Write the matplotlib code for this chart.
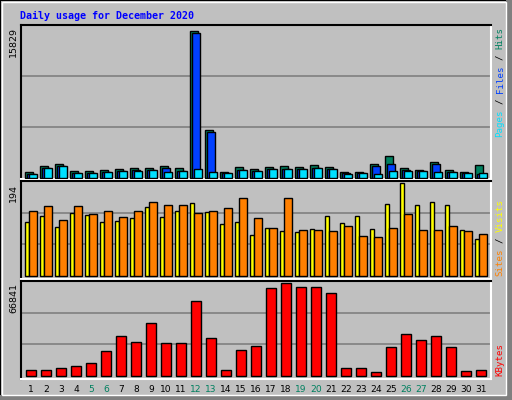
import matplotlib
matplotlib.use("Agg")
import matplotlib.pyplot as plt
from matplotlib.patches import Rectangle
import numpy as np

days = list(range(1, 32))
hits = [590,1250,1460,690,690,800,940,1040,1040,1250,1040,15480,5100,590,1150,
        940,1150,1250,1150,1350,1150,590,590,1460,2290,1040,830,1670,830,590,1350]
files = [420,1000,1250,490,490,590,690,830,830,1040,690,15270,4890,490,830,
         690,940,940,940,1040,940,490,490,1250,1460,830,690,1460,590,490,380]
pages = [420,1000,1250,490,490,590,690,690,830,590,690,940,620,490,830,
         690,940,940,940,1040,940,380,490,380,690,690,690,590,590,490,490]
sites = [113,126,103,132,128,113,115,120,143,124,136,153,134,109,113,86,101,94,92,98,
         126,111,126,98,151,193,147,155,149,96,77]
visits = [136,145,117,145,130,136,124,136,155,149,147,132,136,141,162,122,101,162,96,96,
          94,105,84,82,101,130,96,96,105,94,88]
kbytes = [3900,3900,5400,7100,9000,17800,28800,24400,37600,23700,23700,53700,27300,3900,
          18500,21500,63200,66841,63900,63900,59500,5400,5400,2400,20700,30300,25900,
          28800,20700,3200,3900]
weekend = [5, 6, 12, 13, 19, 20, 26, 27]
max_hits, max_sites, max_kb = 15829, 194, 66841
title = "Daily usage for December 2020"

W, H = 512, 400
fig = plt.figure(figsize=(W/100, H/100), dpi=100)
BG = "#C0C0C0"
fig.patch.set_facecolor(BG)
fig.patches.append(Rectangle((0, 0), 1, 1, transform=fig.transFigure, fc=BG, ec="black", lw=1.5, zorder=-5))
fig.patches.append(Rectangle((1-6/W, 0), 6/W, 1, transform=fig.transFigure, fc="#808080", ec="none", zorder=-4))
fig.patches.append(Rectangle((0, 0), 1, 5/H, transform=fig.transFigure, fc="#808080", ec="none", zorder=-4))
fig.patches.append(Rectangle((1.5/W, 5/H), 1-8/W, 1-6.5/H, transform=fig.transFigure, fc="none", ec="white", lw=1, zorder=-3))

def ax_at(x0, y0, x1, y1):
    return fig.add_axes([x0/W, 1-y1/H, (x1-x0)/W, (y1-y0)/H])

X0 = 1 - 4/15
X1 = X0 + 470/15
def style(ax, ymax, base_frac):
    ax.set_facecolor(BG)
    ax.set_xlim(X0, X1)
    ax.set_ylim(-ymax*base_frac, ymax*1.02)
    for f in (1/3, 2/3):
        ax.axhline(ymax*f*1.02, color="#808080", lw=1.2, zorder=0)
    ax.set_xticks([]); ax.set_yticks([])
    for s in ("top", "left"):
        ax.spines[s].set_color("black"); ax.spines[s].set_linewidth(1.5)
    for s in ("bottom", "right"):
        ax.spines[s].set_color("white"); ax.spines[s].set_linewidth(1.5)

d = np.array(days, dtype=float)
kw = dict(align="edge", edgecolor="black", linewidth=1, zorder=3)

ax1 = ax_at(21, 25, 491, 179)
style(ax1, max_hits, 0.008)
ax1.bar(d, hits, width=8/15, color="#00805F", **kw)
ax1.bar(d+2/15, files, width=8/15, color="#0040FF", **kw)
ax1.bar(d+4/15, pages, width=8/15, color="#00E0FF", **kw)

ax2 = ax_at(21, 181, 491, 279)
style(ax2, max_sites, 0.03)
ax2.bar(d, sites, width=4/15, color="#FFFF00", **kw)
ax2.bar(d+4/15, visits, width=8/15, color="#FF8000", **kw)

ax3 = ax_at(21, 281, 491, 379)
style(ax3, max_kb, 0.035)
ax3.bar(d+1/15, kbytes, width=10/15, color="#FF0000", **kw)

for y, v in ((25, max_hits), (182, max_sites), (281, max_kb)):
    fig.text(18/W, 1-(y+2)/H, str(v), rotation=90, ha="right", va="top", fontsize=6.8, color="black")

FS = 6.6
CH = 0.6 * FS * 100 / 72
def vlegend(parts, ybottom):
    y = ybottom
    for txt, col in parts:
        fig.text(500/W, 1-y/H, txt, rotation=90, ha="center", va="bottom",
                 fontsize=FS, family="DejaVu Sans Mono", color=col)
        y -= len(txt) * CH + CH
vlegend([("Pages", "#00E0FF"), ("/", "black"), ("Files", "#0040FF"), ("/", "black"), ("Hits", "#00805F")], 137)
vlegend([("Sites", "#FF8000"), ("/", "black"), ("Visits", "#FFFF00")], 276)
vlegend([("KBytes", "#FF0000")], 376)

for dd in days:
    xpix = 21 + (dd + 6/15 - X0) * 15
    fig.text(xpix/W, 1-389/H, str(dd), ha="center", va="center", fontsize=6.6,
             color="#00805F" if dd in weekend else "black")

fig.text(20/W, 1-16/H, title, ha="left", va="center", fontsize=7.2, weight="bold",
         family="DejaVu Sans Mono", color="#0000FF")

fig.savefig("out.png", dpi=100, facecolor=BG)
